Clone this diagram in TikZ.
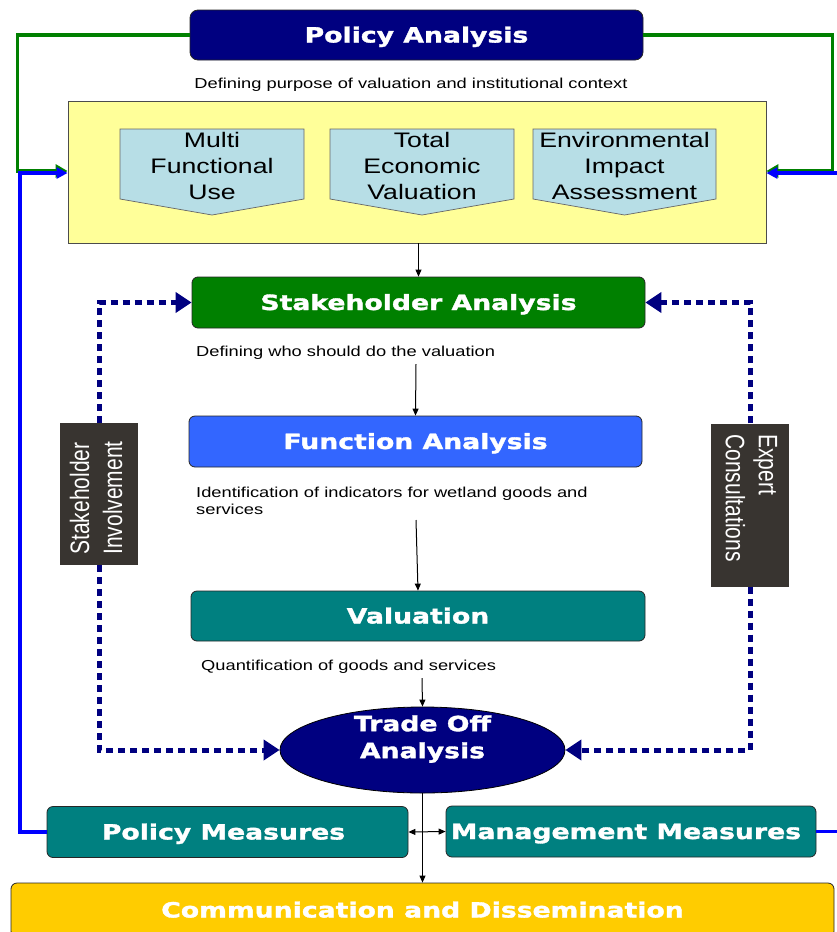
\documentclass[tikz,border=0pt]{standalone}
\usepackage{fontspec}
\usepackage{graphicx}
\usetikzlibrary{arrows.meta,shapes.geometric,calc}
\newfontfamily\bfw[FakeStretch=1.27,FakeBold=1.6]{DejaVu Sans}
\newfontfamily\capf[FakeStretch=1.27]{Liberation Sans}
\newfontfamily\labf{Liberation Sans}
\definecolor{navyc}{RGB}{0,0,128}
\definecolor{greenc}{RGB}{0,128,0}
\definecolor{bluefa}{RGB}{51,102,255}
\definecolor{tealc}{RGB}{0,128,128}
\definecolor{yellowc}{RGB}{255,255,153}
\definecolor{goldc}{RGB}{255,204,0}
\definecolor{lblue}{RGB}{183,222,230}
\definecolor{darkl}{RGB}{56,52,48}
\definecolor{lineblue}{RGB}{0,0,255}
\begin{document}
\begin{tikzpicture}[x=1pt,y=-1pt,
  mainbox/.style={draw=black!85,line width=0.8pt,rounded corners=6pt,inner sep=0pt,text=white,
    font=\bfw\bfseries\fontsize{21}{26}\selectfont,align=center,text height=16pt,text depth=1pt},
  captext/.style={font=\capf\fontsize{14.4}{17}\selectfont,inner sep=0pt,align=left},
  flow/.style={draw=black,line width=1pt,-{Triangle[length=7pt,width=6pt]}},
  twoflow/.style={draw=black,line width=1pt,{Triangle[length=7pt,width=6pt]}-{Triangle[length=7pt,width=6pt]}},
  dotl/.style={draw=navyc,line width=5pt,dash pattern=on 7pt off 5pt,-{Triangle[length=16pt,width=20pt]}},
  gline/.style={draw=greenc,line width=3.5pt,-{Triangle[length=12pt,width=13pt]}},
  bline/.style={draw=lineblue,line width=3.5pt,-{Triangle[length=11pt,width=11pt]}},
  pent/.style={fill=lblue,draw=black!60,line width=0.7pt},
  pentext/.style={font=\capf\fontsize{21}{26}\selectfont,align=center,inner sep=0pt},
  labbox/.style={fill=darkl,inner sep=0pt},
  labtext/.style={text=white,inner sep=0pt,font=\labf\fontsize{21}{26}\selectfont}
]
\useasboundingbox (0,0) rectangle (836,932);

% main boxes
\node[mainbox,fill=navyc,rounded corners=8pt,minimum width=453pt,minimum height=50pt] (pa) at (416.5,35) {Policy Analysis};
\node[captext,anchor=center] (cap1) at (411,85) {Defining purpose of valuation and institutional context};
\node[draw=black!70,line width=0.8pt,fill=yellowc,minimum width=698pt,minimum height=142pt,inner sep=0pt] (yb) at (417,172) {};

% pentagons
\path[pent] (120,129) -- (304,129) -- (304,199) -- (212,215) -- (120,199) -- cycle;
\path[pent] (330,129) -- (514,129) -- (514,199) -- (422,215) -- (330,199) -- cycle;
\path[pent] (533,129) -- (716,129) -- (716,199) -- (624.5,215) -- (533,199) -- cycle;
\node[pentext] (p1) at (212,166) {Multi\\Functional\\Use};
\node[pentext] (p2) at (422,166) {Total\\Economic\\Valuation};
\node[pentext] (p3) at (624.5,166) {Environmental\\Impact\\Assessment};

\node[mainbox,fill=greenc,minimum width=453pt,minimum height=51pt] (sa) at (418.5,302.5) {Stakeholder Analysis};
\node[captext,anchor=west] (cap2) at (196,353) {Defining who should do the valuation};
\node[mainbox,fill=bluefa,minimum width=453pt,minimum height=51pt] (fa) at (415.5,441.5) {Function Analysis};
\node[captext,anchor=west] (cap3) at (196,500.5) {Identification of indicators for wetland goods and\\services};
\node[mainbox,fill=tealc,minimum width=454pt,minimum height=50pt] (va) at (418,616) {Valuation};
\node[captext,anchor=west] (cap4) at (201,667) {Quantification of goods and services};
\node[ellipse,draw=black,line width=0.8pt,fill=navyc,minimum width=285pt,minimum height=86pt,inner sep=0pt] (to) at (422.5,750) {};
\node[text=white,inner sep=0pt,font=\bfw\bfseries\fontsize{21}{27}\selectfont,align=center] (tot) at (422.5,739) {Trade Off\\Analysis};

\node[mainbox,fill=tealc,minimum width=361pt,minimum height=51pt] (pm) at (227.5,832) {Policy Measures\hspace*{8pt}};
\node[mainbox,fill=tealc,minimum width=370pt,minimum height=51pt] (mm) at (631,831.5) {Management Measures\hspace*{10pt}};
\node[mainbox,fill=goldc,minimum width=823pt,minimum height=54pt] (cd) at (422.5,910) {Communication and Dissemination};

% side labels
\node[labbox,minimum width=78pt,minimum height=142pt] (si) at (99,494) {};
\node[labtext,rotate=90] (sit) at (99,498) {\scalebox{1}[1.27]{\begin{tabular}{@{}l@{}}Stakeholder\\Involvement\end{tabular}}};
\node[labbox,minimum width=78pt,minimum height=163pt] (ec) at (750,505) {};
\node[labtext,rotate=-90] (ect) at (749,498) {\scalebox{1}[1.27]{\begin{tabular}{@{}l@{}}Expert\\Consultations\end{tabular}}};

% feedback lines
\coordinate (gL) at (17.5,171);
\coordinate (gR) at (832.5,171);
\coordinate (bL) at (20,173);
\coordinate (bR) at (845,173);
\draw[gline] (pa.west) -| (gL) -- (gL -| yb.west);
\draw[gline] (pa.east) -| (gR) -- (gR -| yb.east);
\draw[bline] (pm.west) -| (bL) -- (bL -| yb.west);
\draw[bline] (mm.east) -| (bR) -- (bR -| yb.east);

% dotted lines
\draw[dotl] (si.north) |- (sa.west);
\draw[dotl] (si.south) |- (to.west);
\draw[dotl] (ec.north) |- (sa.east);
\draw[dotl] (ec.south) |- (to.east);

% flow arrows
\coordinate (c2) at (416,364);
\coordinate (c3) at (416,520);
\coordinate (c4) at (422,678);
\draw[flow] (yb.south -| sa.north) -- (sa.north);
\draw[flow] (c2) -- (fa.north);
\draw[flow] (c3) -- (va.north);
\draw[flow] (c4) -- (to.north);
\draw[flow] (to.south) -- (cd.north);
\draw[twoflow] (pm.east) -- (mm.west);
\end{tikzpicture}
\end{document}
